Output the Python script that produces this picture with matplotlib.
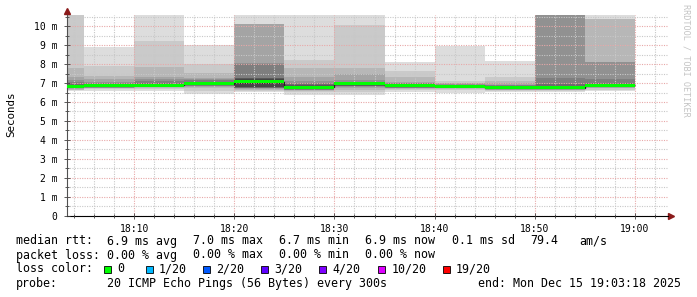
import matplotlib
matplotlib.use('Agg')
import matplotlib.pyplot as plt
from matplotlib.patches import Rectangle
import numpy as np

MONO = 'DejaVu Sans Mono'

# 5 minute steps, minutes after 18:00 (each value covers start .. start+5)
bin_starts = [0, 5, 10, 15, 20, 25, 30, 35, 40, 45, 50, 55]

# 20 sorted ping rtts (ms) per step
pings = [
    [6.58, 6.62, 6.66, 6.70, 6.72, 6.75, 6.77, 6.79, 6.80, 6.81, 6.83, 6.86, 6.90, 6.96, 7.05, 7.15, 7.32, 7.80, 11.5, 12.5],
    [6.60, 6.71, 6.74, 6.76, 6.78, 6.79, 6.80, 6.81, 6.82, 6.83, 6.84, 6.86, 6.88, 6.92, 6.98, 7.08, 7.23, 7.37, 7.92, 8.92],
    [6.60, 6.70, 6.75, 6.79, 6.82, 6.84, 6.85, 6.86, 6.87, 6.88, 6.89, 6.92, 6.96, 7.02, 7.10, 7.20, 7.34, 7.87, 9.24, 11.5],
    [6.42, 6.60, 6.72, 6.80, 6.85, 6.88, 6.90, 6.92, 6.94, 6.95, 6.96, 6.98, 7.02, 7.08, 7.15, 7.22, 7.28, 7.52, 7.99, 9.01],
    [6.51, 6.60, 6.65, 6.70, 6.73, 6.75, 6.76, 6.77, 6.78, 6.95, 7.15, 7.20, 7.25, 7.27, 8.02, 8.04, 10.10, 10.12, 10.15, 11.5],
    [6.39, 6.52, 6.58, 6.62, 6.64, 6.66, 6.70, 6.74, 6.76, 6.78, 6.80, 6.84, 6.88, 6.94, 6.99, 7.10, 7.30, 7.78, 8.22, 11.5],
    [6.39, 6.55, 6.65, 6.72, 6.78, 6.83, 6.87, 6.90, 6.92, 6.93, 6.94, 6.96, 6.99, 7.03, 7.08, 7.16, 7.48, 7.80, 10.07, 11.5],
    [6.51, 6.62, 6.68, 6.72, 6.76, 6.79, 6.81, 6.83, 6.85, 6.86, 6.88, 6.90, 6.92, 6.95, 6.98, 7.02, 7.07, 7.30, 7.64, 8.10],
    [6.50, 6.62, 6.68, 6.72, 6.75, 6.77, 6.79, 6.80, 6.82, 6.83, 6.84, 6.85, 6.87, 6.89, 6.92, 6.95, 6.99, 7.03, 7.10, 8.98],
    [6.54, 6.60, 6.64, 6.67, 6.69, 6.71, 6.72, 6.73, 6.74, 6.75, 6.76, 6.78, 6.80, 6.84, 6.88, 6.92, 7.00, 7.10, 7.34, 8.17],
    [6.54, 6.60, 6.64, 6.67, 6.69, 6.71, 6.72, 6.73, 6.74, 6.75, 6.76, 6.78, 6.82, 6.95, 7.25, 11.0, 11.5, 12.0, 12.5, 13.0],
    [6.58, 6.66, 6.72, 6.76, 6.79, 6.81, 6.83, 6.84, 6.85, 6.86, 6.87, 6.89, 6.92, 7.00, 7.21, 8.12, 8.13, 10.38, 10.39, 11.5],
]
medians = [6.83, 6.86, 6.88, 6.96, 7.07, 6.78, 6.96, 6.87, 6.83, 6.75, 6.75, 6.88]
loss = [0, 0, 0, 0, 0, 0, 0, 0, 0, 0, 0, 0]

loss_labels = ['0', '1/20', '2/20', '3/20', '4/20', '10/20', '19/20']
loss_colors = ['#00ff00', '#00b8ff', '#0059ff', '#5e00ff', '#7e00ff', '#dd00ff', '#ff0000']

x_ticks = [10, 20, 30, 40, 50, 60]
x_labels = ['18:10', '18:20', '18:30', '18:40', '18:50', '19:00']
y_ticks = [0, 1, 2, 3, 4, 5, 6, 7, 8, 9, 10]
y_labels = ['0', '1 m', '2 m', '3 m', '4 m', '5 m', '6 m', '7 m', '8 m', '9 m', '10 m']

W, H = 697, 297
fig = plt.figure(figsize=(W / 100, H / 100), dpi=100)
fig.patch.set_facecolor('white')

def fx(px):
    return px / W

def fy(py):
    return 1 - py / H

ax = fig.add_axes([fx(67), fy(215.5), fx(668) - fx(67), fy(15) - fy(215.5)])
ax.set_xlim(3.3, 63.3)
ax.set_ylim(0, 10.6)

# smoke, outermost band lightest
p = np.array(pings)
npings = p.shape[1]
half = npings // 2
for ib in range(half):
    g = int(190 / half * (half - ib - 1)) + 50
    col = '#%02x%02x%02x' % (g, g, g)
    lo = p[:, ib]
    hi = p[:, npings - 1 - ib]
    ax.bar(bin_starts, hi - lo, bottom=lo, width=5, align='edge', color=col,
           linewidth=0, zorder=1)

# median
edges = bin_starts + [bin_starts[-1] + 5]
ax.stairs(medians, edges, baseline=None, color='#202020', linewidth=1.0, zorder=3)
sw = 0.085
med = np.array(medians)
ax.bar(bin_starts, 2 * sw, bottom=med - sw, width=5, align='edge',
       color=[loss_colors[l] for l in loss], linewidth=0, zorder=4)

# grid
ax.set_xticks(x_ticks)
ax.set_xticklabels(x_labels, fontfamily=MONO, fontsize=7)
ax.set_xticks(np.arange(4, 64, 2), minor=True)
ax.set_yticks(y_ticks)
ax.set_yticklabels(y_labels, fontfamily=MONO, fontsize=7)
ax.set_yticks(np.arange(0.5, 10.6, 0.5), minor=True)
ax.set_axisbelow(False)
ax.grid(which='minor', color='#c8c8c8', linestyle=(0, (1, 1.2)), linewidth=0.8)
ax.grid(which='major', color='#e8a8a8', linestyle=(0, (1, 1.2)), linewidth=0.8)
ax.tick_params(which='both', direction='inout', width=0.6, color='#404040', pad=4)
ax.tick_params(which='major', length=4)
ax.tick_params(which='minor', length=3)
ax.tick_params(axis='y', which='both', pad=5)
for s in ['top', 'right']:
    ax.spines[s].set_visible(False)
ax.spines['left'].set_color('#505050')
ax.spines['bottom'].set_color('black')
ax.spines['left'].set_linewidth(0.8)
ax.spines['bottom'].set_linewidth(0.8)

# axis arrows
ax.plot([0], [1.02], marker='^', markersize=4, color='#8b1a1a', transform=ax.transAxes, clip_on=False)
ax.plot([1.005], [0], marker='>', markersize=4, color='#8b1a1a', transform=ax.transAxes, clip_on=False)

fig.text(fx(11), fy(114.5), 'Seconds', rotation=90, ha='center', va='center',
         fontfamily=MONO, fontsize=7.8)
fig.text(fx(686), fy(60), 'RRDTOOL / TOBI OETIKER', rotation=270, ha='center', va='center',
         fontfamily=MONO, fontsize=6.1, color='#c4c4c4')

# legend block
fs = 8.4
rows = [241, 255, 269, 283.5]
fig.text(fx(16), fy(rows[0]), 'median rtt:', fontfamily=MONO, fontsize=fs, va='center')
row1 = [(107.3, '6.9 ms avg'), (193.3, '7.0 ms max'), (279.3, '6.7 ms min'),
        (365, '6.9 ms now'), (451.7, '0.1 ms sd'), (530, '79.4'), (579.3, 'am/s')]
for x, t in row1:
    fig.text(fx(x), fy(rows[0]), t, fontfamily=MONO, fontsize=fs, va='center')

fig.text(fx(16), fy(rows[1]), 'packet loss:', fontfamily=MONO, fontsize=fs, va='center')
row2 = [(107.3, '0.00 % avg'), (193.3, '0.00 % max'), (279.3, '0.00 % min'), (365, '0.00 % now')]
for x, t in row2:
    fig.text(fx(x), fy(rows[1]), t, fontfamily=MONO, fontsize=fs, va='center')

fig.text(fx(16), fy(rows[2]), 'loss color:', fontfamily=MONO, fontsize=fs, va='center')
sq_x = [103.5, 145.7, 203.3, 261, 319, 378.3, 442.7]
for x, lab, col in zip(sq_x, loss_labels, loss_colors):
    fig.patches.append(Rectangle((fx(x), fy(rows[2] + 3.5)), fx(7), 7 / H, facecolor=col,
                                 edgecolor='black', linewidth=0.6, transform=fig.transFigure))
    fig.text(fx(x + 13.3), fy(rows[2]), lab, fontfamily=MONO, fontsize=fs, va='center')

fig.text(fx(16), fy(rows[3]), 'probe:', fontfamily=MONO, fontsize=fs, va='center')
fig.text(fx(107.3), fy(rows[3]), '20 ICMP Echo Pings (56 Bytes) every 300s', fontfamily=MONO,
         fontsize=fs, va='center')
fig.text(fx(478.3), fy(rows[3]), 'end: Mon Dec 15 19:03:18 2025', fontfamily=MONO,
         fontsize=fs, va='center')

fig.savefig('out.png', dpi=100)
